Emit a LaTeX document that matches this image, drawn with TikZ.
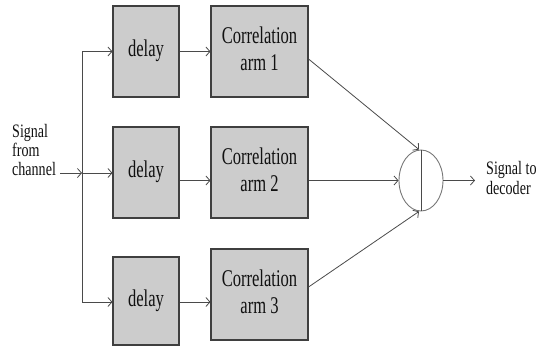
\documentclass[tikz,border=0pt]{standalone}
\usepackage{fontspec}
\setmainfont{Liberation Serif}
\usetikzlibrary{arrows.meta,shapes.geometric,shadows}
\definecolor{boxfill}{HTML}{CCCCCC}
\definecolor{boxline}{HTML}{3F3F3F}
\definecolor{wire}{HTML}{4A4A4A}
\definecolor{ink}{HTML}{111111}
% condensed serif text block: lines separated by \\
\newcommand\condensed[2]{\scalebox{#1}[1]{\begin{tabular}{@{}c@{}}#2\end{tabular}}}
\newcommand\condensedleft[2]{\scalebox{#1}[1]{\begin{tabular}{@{}l@{}}#2\end{tabular}}}
\tikzset{
  block/.style={draw=boxline, line width=1.1pt, fill=boxfill, inner sep=0pt,
    minimum height=91pt, text=ink,
    font=\fontsize{24}{27}\selectfont,
    drop shadow={shadow xshift=1pt, shadow yshift=-1pt, opacity=0.35}},
  delaybox/.style={block, minimum width=66pt},
  corrbox/.style={block, minimum width=97pt},
  wireline/.style={draw=wire, line width=0.8pt},
  flow/.style={wireline, -{Straight Barb[length=4pt,width=9pt,line width=0.8pt]}},
  label/.style={inner sep=0pt, text=ink},
}
\begin{document}
\begin{tikzpicture}[x=1pt, y=-1pt]
  \useasboundingbox (0,0) rectangle (542,346);

  % processing blocks: three delay branches, each followed by a correlator
  \node[delaybox] (d1) at (146,51.5) {\condensed{0.69}{delay}};
  \node[delaybox] (d2) at (146,172.5) {\condensed{0.69}{delay}};
  \node[delaybox, minimum height=88pt] (d3) at (146,301) {\condensed{0.69}{delay}};
  \node[corrbox] (c1) at (259.5,51.5) {\condensed{0.69}{Correlation\\arm 1}};
  \node[corrbox] (c2) at (259.5,172.5) {\condensed{0.69}{Correlation\\arm 2}};
  \node[corrbox] (c3) at (259.5,294.5) {\condensed{0.69}{Correlation\\arm 3}};

  % combiner
  \node[ellipse, draw=wire!75, line width=0.9pt, minimum width=44pt,
        minimum height=61pt, inner sep=0pt] (sum) at (421,180.5) {};
  \draw[wireline] (sum.north) -- (sum.south);

  % input and output labels
  \node[label, anchor=west, font=\fontsize{19}{17.5}\selectfont] (src) at (12,152.5)
    {\condensedleft{0.74}{Signal\\from\\channel}};
  \node[label, anchor=west, font=\fontsize{19}{20}\selectfont] (dst) at (486,180)
    {\condensedleft{0.74}{Signal to\\decoder}};

  % branching of the received signal
  \coordinate (in)  at (60,173);
  \coordinate (j2)  at (82,173);
  \coordinate (j1)  at (82,51.5);
  \coordinate (j3)  at (82,302);
  \coordinate (out) at (475,180.5);
  \draw[flow] (in) -- (j2);
  \draw[wireline] (j1) -- (j3);
  \draw[flow] (j1) -- (d1.west);
  \draw[flow] (j2) -- (j2 -| d2.west);
  \draw[flow] (j3) -- (j3 -| d3.west);

  % delay to correlator
  \draw[flow] (d1.east) -- (c1.west);
  \draw[flow] (d2.east |- sum.center) -- (c2.west |- sum.center);
  \draw[flow] (j3 -| d3.east) -- (j3 -| c3.west);

  % correlator outputs into the combiner
  \draw[flow] ([yshift=-7.5pt]c1.east) -- ([xshift=-2pt]sum.north);
  \draw[flow] (c2.east |- sum.center) -- (sum.west);
  \draw[flow] ([yshift=7.5pt]c3.east) -- ([xshift=-2pt]sum.south);
  \draw[flow] (sum.east) -- (out);
\end{tikzpicture}
\end{document}
